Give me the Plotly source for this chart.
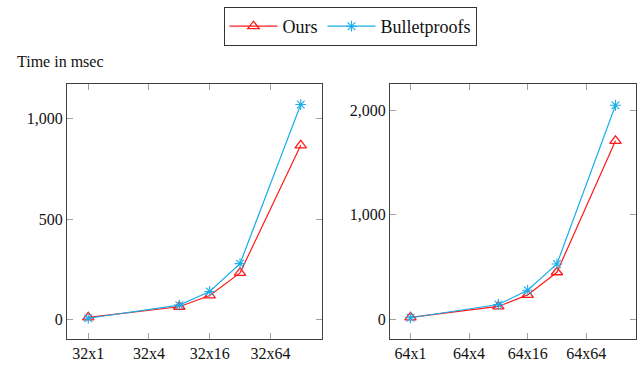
import math
import plotly.graph_objects as go
from plotly.subplots import make_subplots

# data
sizes = [1, 8, 16, 32, 128]
tick_vals = [1, 4, 16, 64]
left_ticks = ["32x1", "32x4", "32x16", "32x64"]
right_ticks = ["64x1", "64x4", "64x16", "64x64"]
ours_32 = [12, 65, 121, 233, 866]
bullet_32 = [8, 73, 141, 279, 1068]
ours_64 = [20, 124, 235, 451, 1708]
bullet_64 = [16, 143, 279, 530, 2048]

RED = "#ff1a1a"
CYAN = "#1aaee8"
FONT = "Liberation Serif"

fig = make_subplots(rows=1, cols=2)

def add(col, ours, bullet, show):
    fig.add_trace(go.Scatter(x=sizes, y=ours, mode="lines+markers", name="Ours",
                             line=dict(color=RED, width=1.2),
                             marker=dict(symbol="triangle-up-open", size=10, color=RED, line=dict(width=1.3)),
                             showlegend=show), row=1, col=col)
    fig.add_trace(go.Scatter(x=sizes, y=bullet, mode="lines+markers", name="Bulletproofs",
                             line=dict(color=CYAN, width=1.2),
                             marker=dict(symbol="asterisk-open", size=9, color=CYAN, line=dict(width=1.1, color=CYAN)),
                             showlegend=show), row=1, col=col)

add(1, ours_32, bullet_32, True)
add(2, ours_64, bullet_64, False)

xr = [-0.7 * math.log10(2), 7.7 * math.log10(2)]
axis_common = dict(showline=True, linecolor="#404040", linewidth=1, mirror="ticks",
                   ticks="inside", ticklen=6, tickcolor="#a0a0a0", tickwidth=1,
                   showgrid=False, zeroline=False,
                   tickfont=dict(family=FONT, size=16, color="#111"))

fig.update_xaxes(type="log", range=xr, tickvals=tick_vals, ticktext=left_ticks,
                 domain=[67/642, 322/642], row=1, col=1, **axis_common)
fig.update_xaxes(type="log", range=xr, tickvals=tick_vals, ticktext=right_ticks,
                 domain=[390/642, 636/642], row=1, col=2, **axis_common)

ydom = [1 - 339/365, 1 - 84/365]
fig.update_yaxes(range=[-95, 1170], tickvals=[0, 500, 1000], ticktext=["0", "500", "1,000"],
                 domain=ydom, row=1, col=1, **axis_common)
fig.update_yaxes(range=[-187, 2251], tickvals=[0, 1000, 2000], ticktext=["0", "1,000", "2,000"],
                 domain=ydom, row=1, col=2, **axis_common)

fig.add_annotation(text="Time in msec", xref="paper", yref="paper",
                   x=15/642, y=1 - 62/365, xanchor="left", yanchor="middle",
                   showarrow=False, font=dict(family=FONT, size=16, color="#111"))

fig.update_layout(
    width=642, height=365,
    margin=dict(l=0, r=0, t=0, b=0),
    paper_bgcolor="white", plot_bgcolor="white",
    legend=dict(orientation="h", x=350/642, y=1 - 7/365, xanchor="center", yanchor="top",
                bordercolor="#333", borderwidth=1, font=dict(family=FONT, size=18, color="#111"),
                itemwidth=48, tracegroupgap=0),
)

fig.write_html("out.html", config={"displayModeBar": False},
               post_script="document.body.style.margin='0';document.body.style.overflow='hidden';")
